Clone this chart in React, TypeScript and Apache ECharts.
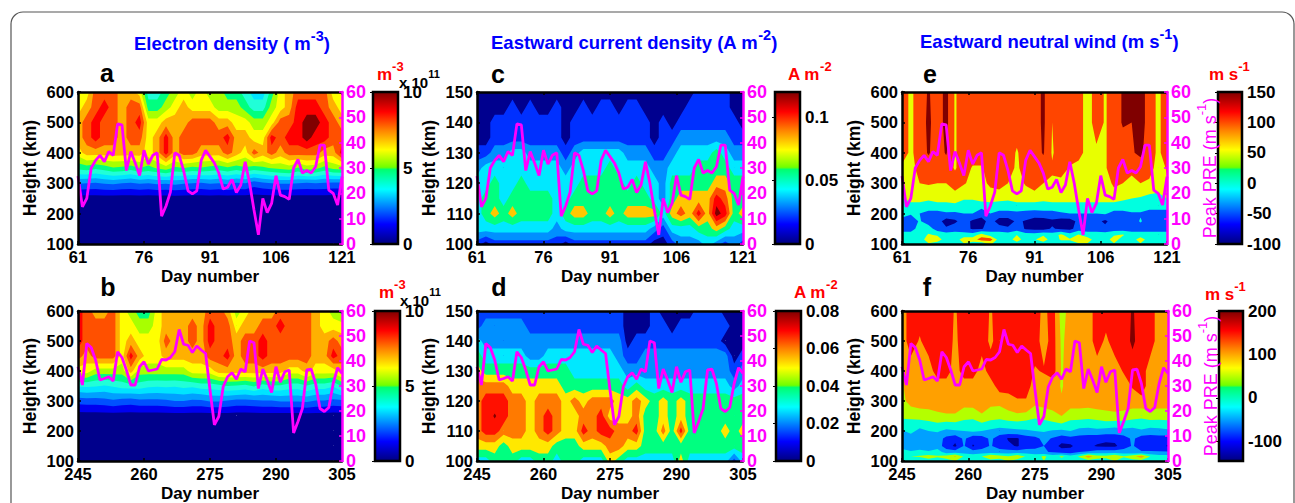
import React, { useEffect, useRef } from "react";
import * as echarts from "echarts";

const FONT = '"Liberation Sans", Arial, sans-serif';
const MAGENTA = "#ff00ff";

const daysSpring = [61,63,65,67,69,71,73,75,77,79,81,83,85,87,89,91,93,95,97,99,101,103,105,107,109,111,113,115,117,119,121];
const daysAutumn = [245,247,249,251,253,255,257,259,261,263,265,267,269,271,273,275,277,279,281,283,285,287,289,291,293,295,297,299,301,303,305];
const heightsFine = [600,550,500,450,400,350,300,250,200,150,100];
const heightsE = [150,145,140,135,130,125,120,115,110,105,100];
const heightsWind = [600,500,400,350,300,250,225,200,175,150,130,115,100];

// Peak PRE (m/s), one value per day
const peakPreSpring = [26.8,14.7,18,30,33,35,32.5,36.5,35,47.4,47,29,36.5,32,27,37,31.5,35,36,11,15,20.5,36,35,29,21,19.8,21,33,37,34.5,32,28,21.7,22.4,25.5,20.3,23.3,32.5,24,13.4,3.6,18,12.4,16,27,19.3,18.7,17.6,30,33.4,28,29,28,30.5,39,39,21.3,20,15.4,26.6];
const peakPreAutumn = [37.7,30.4,47,45.4,40.4,32.4,33,33.7,32,43.7,41.4,36.4,30.4,30.4,37.7,39.7,36,36.4,36.8,40.6,40.4,41.4,43.7,52.6,46.7,46.3,43.4,46,44.4,43,28.4,14.5,17.8,29.7,33.7,35.3,32.7,36.8,35.7,48,47.3,29,36.8,32.4,27.4,37.7,31.5,35.7,36.4,11.2,15.8,21,36.4,36.7,31,21,19.8,21.4,31,37.3,35];

// Field values (rows from the top of the panel down)
const zero = [0,0,0,0,0,0,0,0,0,0,0,0,0,0,0,0,0,0,0,0,0,0,0,0,0,0,0,0,0,0,0];
const gridA = [
  [8,8,10,10,10,9,9,8,5,5,6,7,8,7,8,7,7,6,6,5,4,4,6,8,9,10,10,10,10,8,8],
  [8,9,10,11,10,9,10,10,6,6,7,8,9,8,8,8,7,7,7,6,5,5,7,8,9,11,11,11,10,9,8],
  [9,10,11,10,10,9,10,11,8,8,9,9,9,10,10,10,9,9,8,8,7,7,8,10,10,11,12,12,11,10,9],
  [9,10,11,10,10,9,10,10,8,9,11,9,10,10,10,10,10,11,9,9,8,8,11,10,11,11,12,11,11,10,10],
  [8,9,9,9,9,9,9,9,8,9,11,9,10,10,9,9,9,10,9,8,10,9,10,9,10,10,10,10,9,9,11],
  [5.8,6,5.7,6,6.4,6.3,6,6.5,6.2,6.6,7,6.3,6.5,6.2,6.4,6.2,6,6.3,6,6.4,6,6.3,6.6,6.8,7,6.4,7,6.8,6.2,6.8,7],
  [2.6,2.5,2.4,2.6,2.7,2.5,2.4,2.6,2.5,2.7,2.6,2.8,2.6,2.5,2.4,2.6,2.5,2.7,2.4,2.5,2,2.3,2.5,2.6,2.6,2.5,2.4,2.5,2.4,2.3,2.3],
  zero, zero, zero, zero,
];
const gridB = [
  [11,10,9,9,10,8,7,6,6,8,9,9,9,9,9,10,10,9,7,8,9,9,9,10,10,10,10,9,8,7,6],
  [11,10,10,10,10,8,8,7,7,8,9,9,9,10,9,11,10,10,8,9,9,10,10,11,10,10,10,9,8,8,8],
  [11,10,10,10,10,8,9,8,8,8,10,9,9,10,9,11,10,10,9,10,10,11,10,10,10,10,10,9,9,10,9],
  [10,9,10,10,10,8,11,9,8,8,9,9,9,9,9,10,10,11,9,10,10,11,10,10,10,10,10,9,9,11,10],
  [8,8,7,7,7,7,9,7,7,7,7,7,7,8,8,8,9,9,9,9,9,9,9,9,8,8,9,8,8,8,9],
  [4.6,4.7,4.6,4.4,4.6,4.9,5,5,4.7,4.6,4.7,4.6,4.8,4.7,5,5,5.2,5.5,5.4,5.2,5.6,5,5.4,5.3,5,5,5.4,5,5,4.6,5.6],
  [1.9,2,2,2.1,2.3,2.1,2,2.2,2.2,2.2,2.3,2.5,2.5,2.3,2.3,2.6,2.6,2.4,2.2,2.2,2.3,2.4,2.4,2.6,2.6,2.6,2.7,2.4,2.4,2.2,2.3],
  zero, zero, zero, zero,
];
const gridC = [
  [0,0,0,0,0,0,0,0,0,0,0,0,0,0,0,0,0,0,0,0,0,0,0,0,0,1,1,1,1,0,0],
  [0,0,0,0,1,0,1,0,0,1,0,0,1,0,1,1,0,1,1,0,0,0,0,0,1,1,1,1,1,0,0],
  [0,0,1,1,1,1,1,1,1,1,0,1,1,1,1,1,1,1,1,1,0,1,0,1,1,1,1,1,1,1,0],
  [0,0,1,1,1,1,1,1,1,1,0,1,1,1,1,1,1,1,1,1,0,1,1,2,2,2,2,2,2,1,1],
  [1,1,2,2,3,3,2,2,2,2,1,2,3,3,3,3,3,2,2,2,1,1,2,3,3,3,3,4,3,2,2],
  [2,3,3,3,3,3,3,3,3,3,2,3,3,3,3,4,3,3,3,3,2,2,3,3,3,4,4,4,4,3,3],
  [3,3,4,3,3,4,3,3,3,3,3,3,4,4,4,4,4,3,4,3,3,2,4,4,4,4,4,5,5,4,4],
  [3,4,4,3,4,4,4,4,4,3,3,4,4,4,4,4,4,4,4,4,3,2,4,5,5,5,5,7,6,4,4],
  [3,4,5,4,5,4,4,4,4,3,4,5,5,4,4,5,4,5,5,5,5,3,5,6,5,7,5,8,7,4,5],
  [3,3,3,3,3,3,3,3,3,2,3,3,3,3,3,3,3,3,3,3,2,1,3,3,3,4,4,5,4,3,3],
  [1,0,1,1,1,1,1,1,1,1,0,1,1,1,1,1,1,1,1,1,0,0,1,2,2,2,3,2,1,2,1],
];
const gridD = [
  [1,1,1,1,1,1,1,1,1,1,1,1,1,1,1,1,1,0,0,0,1,0,0,0,0,1,1,1,0,0,0],
  [1,2,2,2,2,2,1,1,1,1,1,1,1,1,1,1,1,0,0,0,1,1,0,1,1,1,1,1,1,0,0],
  [3,2,2,2,2,2,2,2,2,2,2,2,2,2,2,2,2,0,1,1,1,1,1,1,1,1,1,1,0,0,0],
  [4,3,3,3,3,3,2,2,3,3,3,3,3,3,3,3,2,1,1,2,2,2,2,2,2,2,2,2,2,0,1],
  [5,4,4,4,4,4,4,4,4,4,4,3,3,3,3,3,3,2,2,2,2,2,2,2,2,2,2,2,2,1,2],
  [6,6,6,6,5,5,5,5,5,5,4,4,4,4,4,4,4,3,4,3,3,3,3,3,3,3,3,3,3,2,3],
  [6,7,7,7,6,6,5,6,6,6,5,6,5,6,6,6,5,5,6,5,4,5,4,5,4,4,4,4,4,4,4],
  [6,7,7.6,7,6,6,5,6,7,6,5,5,6,6,7,5,5,5,6,4,4,5,4,5,4,4,4,4,4,4,4],
  [6,7,7,6,6,6,5,6,7,6,5,5,7,6,7,7,6,6,7,4,4,6,4,7,4,4,4,4,5,4,5],
  [5,5,5,4,5,5,5,5,5,4,4,4,5,5,5,6,6,5,5,4,4,4,4,4,4,4,4,4,4,4,4],
  [3,3,4,4,4,3,3,4,4,3,4,4,3,3,3,5,4,3,3,3,3,3,3,5,3,3,3,3,3,1,3],
];
const gridE = [
  [4,3.3,4,4.6,4,4.8,3.4,4,4,4,4,4,4,4,4,4,4.7,3.5,4,4,4,3,4,3.4,4,4.6,4.5,5,4,3.3,4],
  [4,3.3,4,4.7,4,4.8,3.4,4,4,4,4,4,4,4,4,4,4.7,3.5,4,4,4,3,4,3.4,4,4.6,4.5,5,4,3.3,4],
  [4,3.3,4,4.6,4,4.6,3.4,4,4,4,4,4,4,3.4,4,4,4.6,3.4,4,4,4,3,3.3,3.4,4,4,4.4,4.7,4,3.3,4],
  [3.3,3,4,4,4,4,3.4,4,3.4,3.4,4,4,4,3.3,4,4,4,3.6,4,3.4,3,3,3,3.4,4,4,3.6,4,4,3,3.6],
  [3.4,3.4,3.5,3.6,3.5,3.5,4,3.6,3.2,3.2,3.7,4,3.5,3.1,3.6,4,3.5,3.4,3.2,3,3,3,3,3,3.7,3.5,3.4,3.5,3.3,3,3.4],
  [2.4,3,3,2.7,3,3,3,2.6,2.6,3,3,2.8,2.7,3,3,3,2.8,3,3,3,3,3,3,3,3,2.7,2.5,2.4,2.2,2.2,2.5],
  [2,2,2,2,2,2,2.2,2,2,1.8,2,2,2,2,2,2,2,2,2,2,2,2,2,2,2,2,2,2,2,2,2],
  [2,1.6,1.5,1.2,1.2,1.4,1.3,1.5,1.5,1,1.5,1.2,1.2,1.3,1.2,1.1,1.2,1.2,1.4,1.5,1.5,1.5,1.5,1.6,1.2,1.2,1.4,1.4,1,1,1],
  [1,1,1.6,1,1,0,0.3,1,0.3,0,1,0,0,0.7,0.4,0,0,0.3,0,0,0.8,1,0.8,0.3,1,1,1,1.6,1,0.6,1],
  [1,1,2,2,1,0.7,1,0.8,0.4,0.4,1,1,0.7,1,0.4,0.2,0.2,0.6,0.3,0.2,1,1,1,0.8,1,1,1,1,1,1,1],
  [2,2,2,2.6,2.4,2,2,2,2,3,2,2,2,2.5,2,2,2.4,2,2.7,2,2.6,2,2,2,2.4,2.6,2,2,2,2,2],
  [2,2,2,3,3,2,2,3,3,4,4,2,2,3,2,2.4,3,2,2.6,2.6,3,3,2,2,3,2,2,3,2,2,2],
  [1.6,1.6,2,2.4,2,1.6,2,2.4,2,1.6,2.6,2,2,2,1.5,2,2,1.6,2,2,2.4,2.4,1.7,2,2.4,2,1.7,2.4,2,1.7,1.7],
];
const gridF = [
  [5,6,6,6,6,6,5.4,6,6,6,5.4,6,6,6,6,6,5.2,6,4,5,5,5,6,6,6,6,6.6,6,6,5,5],
  [5,6,5.4,6,6,6,5.3,6,6,6,5.3,6,6,6,6,6,5,6,4.3,5,5,5,6,5.3,6,6,6.7,6,6,5,5],
  [5,5,5,5,6,6,5,6,6,5,6,6,6,6,6,5.4,5.6,6,4.4,5,5,5,5,5,5,5.6,6,6,5,5,5],
  [4.4,5,5,5,5,5,5,5,5,5,5,6,6,6,6,5,5,5,4.4,5,5,5,5,5,5,5,5.6,6,5,5,5],
  [4.2,4.9,5,5,5,5,5,4.8,5,5,4.8,4.8,5,5.4,5.4,4.8,5,5,4.6,5,5,5,5,5,5,5,5,5.2,5,5,5],
  [3.8,3.8,4,4.1,4.3,4.4,4.4,4.1,3.9,4.4,4,3.9,4.2,4.3,4.2,3.8,3.9,4.2,4.5,4,4,3.9,4.1,4.2,4.3,4.2,4,3.8,4.1,4,4],
  [3,3.1,3,3.2,3.4,3.2,3.3,3,3,3.4,3.1,3,3.1,3.2,3,2.9,3.1,3.3,3.5,3.1,3,2.9,3,3.2,3.1,3.1,2.9,2.9,3,3,3.1],
  [2.4,2.8,2.2,2.5,2.6,2.3,2.4,2.5,2.7,2.5,2.3,2.1,2.2,2.3,2.4,2.5,2.6,2.4,2.3,2.5,2.2,2.2,2.3,2.1,2,2.2,2.2,2.4,2.1,2.2,2.3],
  [2,2,1.6,2,2,1.2,0.8,1.7,0.8,1,1.7,1,0.4,0.4,1,1.2,1.8,1.4,1,1.2,1,0.9,0.8,0.7,0.8,1,1.7,1,1,1,1],
  [2,2,1.7,2,2,1,0.3,1.6,0.4,1,1.6,1,0.7,0.4,1,1.1,1.5,1,0.2,0.3,1,0.7,0.4,0.3,0.3,1,1.6,1,1,0.8,0.4],
  [3,2.6,3,2.6,3,2,2,2,2,2,2,2,2,2,2,2,1.6,1.4,1,1,1.5,1.6,2,2,2,2,1.6,1.6,1.6,1.6,1.6],
  [3,3.5,3.6,4,3.6,4,4.6,3.4,3,3.5,4.4,4,3.6,4.2,3.4,3,3.7,3,3.7,3,3.6,5,4,3.8,4.5,3.6,4.2,5,3.5,3,3],
  [3,3,2.7,3,3,3,3.5,3,2.6,2.4,3,3,3.5,3,3,2.6,3.5,3,3,3,3,3,3,3,3.5,3,3,3,3,3,2.8],
];

const bandsDensity = ["#00008c","#0000f0","#0050ff","#00a0ff","#00e4ff","#20ffd8","#00ff80","#a8ff00","#ffff00","#ffb000","#ff5000","#ff0000","#800000"];
const bandsCurrentC = ["#00008f","#0030ff","#0090ff","#00e8ff","#00ff80","#ffc800","#ff5000","#ff0000","#800000"];
const bandsCurrentD = ["#00008f","#0040ff","#0090ff","#00e8ff","#00ff80","#ffe800","#ff7a00","#ff1000","#800000"];
const bandsWindE = ["#000090","#0050ff","#00ffe0","#e8ff00","#ff4500","#800000"];
const bandsWindF = ["#000090","#0020ff","#00a0ff","#00ffd8","#b4ff00","#ffa000","#ff1000","#800000"];

const jetStops = [
  { offset: 0, color: "#00007f" },
  { offset: 0.13, color: "#0000ff" },
  { offset: 0.36, color: "#00ffff" },
  { offset: 0.49, color: "#00ff70" },
  { offset: 0.505, color: "#70ff00" },
  { offset: 0.62, color: "#ffff00" },
  { offset: 0.75, color: "#ff8000" },
  { offset: 0.87, color: "#ff0000" },
  { offset: 1, color: "#7f0000" },
];

const ticksSpring = [61,76,91,106,121];
const ticksAutumn = [245,260,275,290,305];

const panels = [
  { letter:"a", grid:gridA, bands:bandsDensity, days:daysSpring, heights:heightsFine, ticks:ticksSpring, pre:peakPreSpring, yMin:100, yMax:600, yInt:100, left:78, top:92, width:264, height:152, barLeft:373, barW:25, barMin:0, barMax:10, barTicks:[0,5,10], peakName:false },
  { letter:"b", grid:gridB, bands:bandsDensity, days:daysAutumn, heights:heightsFine, ticks:ticksAutumn, pre:peakPreAutumn, yMin:100, yMax:600, yInt:100, left:78, top:311, width:264, height:150, barLeft:375, barW:25, barMin:0, barMax:10, barTicks:[0,5,10], peakName:false },
  { letter:"c", grid:gridC, bands:bandsCurrentC, days:daysSpring, heights:heightsE, ticks:ticksSpring, pre:peakPreSpring, yMin:100, yMax:150, yInt:10, left:477, top:92, width:266, height:152, barLeft:775, barW:25, barMin:0, barMax:0.12, barTicks:[0,0.05,0.1], peakName:false },
  { letter:"d", grid:gridD, bands:bandsCurrentD, days:daysAutumn, heights:heightsE, ticks:ticksAutumn, pre:peakPreAutumn, yMin:100, yMax:150, yInt:10, left:477, top:311, width:266, height:150, barLeft:776, barW:25, barMin:0, barMax:0.08, barTicks:[0,0.02,0.04,0.06,0.08], peakName:false },
  { letter:"e", grid:gridE, bands:bandsWindE, days:daysSpring, heights:heightsWind, ticks:ticksSpring, pre:peakPreSpring, yMin:100, yMax:600, yInt:100, left:902, top:92, width:265, height:152, barLeft:1218, barW:24, barMin:-100, barMax:150, barTicks:[-100,-50,0,50,100,150], peakName:true },
  { letter:"f", grid:gridF, bands:bandsWindF, days:daysAutumn, heights:heightsWind, ticks:ticksAutumn, pre:peakPreAutumn, yMin:100, yMax:600, yInt:100, left:902, top:311, width:266, height:150, barLeft:1219, barW:24, barMin:-145, barMax:200, barTicks:[-100,0,100,200], peakName:true },
];

const headings = [
  { base:"Electron density ( m", sup:"-3", tail:")", x:134, y:41 },
  { base:"Eastward current density (A m", sup:"-2", tail:")", x:491, y:40 },
  { base:"Eastward neutral wind (m s", sup:"-1", tail:")", x:920, y:39 },
];
const letterPlaces = [[107,73],[108,287],[498,74],[499,287],[930,74],[927,287]];
const unitLabels = [
  { base:"m", sup:"-3", x:377, y:71 }, { base:"m", sup:"-3", x:379, y:289 },
  { base:"A m", sup:"-2", x:788, y:71 }, { base:"A m", sup:"-2", x:794, y:289 },
  { base:"m s", sup:"-1", x:1209, y:71 }, { base:"m s", sup:"-1", x:1205, y:291 },
];
const factorLabels = [{ x:399, y:79 },{ x:400, y:297 }];

echarts.graphic.registerShape("contourBand", echarts.graphic.extendShape({
  shape: { polys: [] as number[][][] },
  buildPath(ctx: any, shape: any) {
    for (const poly of shape.polys) {
      poly.forEach((p: number[], i: number) => (i ? ctx.lineTo(p[0], p[1]) : ctx.moveTo(p[0], p[1])));
      ctx.closePath();
    }
  },
}));

function clipAbove(poly: number[][], t: number) {
  const out: number[][] = [];
  for (let i = 0; i < poly.length; i++) {
    const a = poly[i];
    const b = poly[(i + 1) % poly.length];
    if (a[2] >= t) out.push(a);
    if (a[2] >= t !== b[2] >= t) {
      const f = (t - a[2]) / (b[2] - a[2]);
      out.push([a[0] + f * (b[0] - a[0]), a[1] + f * (b[1] - a[1]), t]);
    }
  }
  return out;
}

function textLabel(base: string, sup: string, tail: string, x: number, y: number, fill: string, size: number) {
  return {
    type: "text", x, y, z: 50, silent: true,
    style: {
      text: `{b|${base}}{s|${sup}}{b|${tail}}`,
      align: "left", verticalAlign: "middle", fill,
      rich: {
        b: { fontFamily: FONT, fontWeight: "bold", fontSize: size, fill, lineHeight: size + 6, verticalAlign: "bottom" },
        s: { fontFamily: FONT, fontWeight: "bold", fontSize: size - 4, fill, lineHeight: size + 6, verticalAlign: "top" },
      },
    },
  };
}

function buildOption() {
  const grid: any[] = [], xAxis: any[] = [], yAxis: any[] = [], series: any[] = [];
  const labelStyle = { color: "#000", fontFamily: FONT, fontWeight: "bold", fontSize: 16.5 };
  const nameStyle = { color: "#000", fontFamily: FONT, fontWeight: "bold", fontSize: 17 };
  panels.forEach((p) => {
    const g = grid.length;
    grid.push({ left: p.left, top: p.top, width: p.width, height: p.height, outerBoundsMode: "none" });
    const bx = xAxis.length, by = yAxis.length;
    const lineBlack = { show: true, onZero: false, lineStyle: { color: "#000", width: 2.5 } };
    const tickIn = { show: true, inside: true, length: 3, lineStyle: { color: "#000", width: 1.5 } };
    xAxis.push({
      gridIndex: g, type: "value", min: p.days[0], max: p.days[p.days.length - 1], position: "bottom", z: 5,
      name: "Day number", nameLocation: "middle", nameGap: 24,
      nameTextStyle: nameStyle,
      axisLine: lineBlack, splitLine: { show: false },
      axisTick: { ...tickIn, customValues: p.ticks },
      axisLabel: { ...labelStyle, margin: 4, customValues: p.ticks, hideOverlap: false },
    });
    xAxis.push({
      gridIndex: g, type: "value", min: p.days[0], max: p.days[p.days.length - 1], position: "top", z: 5,
      axisLine: lineBlack, splitLine: { show: false },
      axisTick: { ...tickIn, customValues: p.ticks }, axisLabel: { show: false },
    });
    yAxis.push({
      gridIndex: g, type: "value", min: p.yMin, max: p.yMax, interval: p.yInt, position: "left", z: 5,
      name: "Height (km)", nameLocation: "middle", nameGap: 39, nameRotate: 90,
      nameTextStyle: { ...nameStyle, fontSize: 17.5 },
      axisLine: lineBlack, splitLine: { show: false }, axisTick: tickIn,
      axisLabel: { ...labelStyle, margin: 4 },
    });
    yAxis.push({
      gridIndex: g, type: "value", min: 0, max: 60, interval: 10, position: "right", z: 6,
      name: p.peakName ? "{b|Peak PRE (m s}{s|-1}{b|)}" : "",
      nameLocation: "middle", nameGap: 27, nameRotate: 90,
      nameTextStyle: { rich: {
        b: { color: MAGENTA, fontFamily: FONT, fontSize: 18, lineHeight: 24, verticalAlign: "bottom" },
        s: { color: MAGENTA, fontFamily: FONT, fontSize: 13, lineHeight: 24, verticalAlign: "top" },
      } },
      axisLine: { show: true, lineStyle: { color: MAGENTA, width: 2.5 } },
      splitLine: { show: false },
      axisTick: { show: true, inside: true, length: 3, lineStyle: { color: MAGENTA, width: 1.5 } },
      axisLabel: { color: MAGENTA, fontFamily: FONT, fontWeight: "bold", fontSize: 18, margin: 4 },
    });

    const rows = [...p.grid].reverse();
    const hs = [...p.heights].reverse();
    const levels = p.bands.map((_, k) => k);
    series.push({
      type: "custom", xAxisIndex: bx, yAxisIndex: by, z: 2, silent: true, clip: true,
      data: levels.map((k) => [k]),
      renderItem: (params: any, api: any) => {
        const k = params.dataIndex;
        const t = k - 0.5;
        const polys: number[][][] = [];
        for (let r = 0; r < hs.length - 1; r++) {
          for (let c = 0; c < p.days.length - 1; c++) {
            const quad = [
              [p.days[c], hs[r], k === 0 ? 1e3 : rows[r][c]],
              [p.days[c + 1], hs[r], k === 0 ? 1e3 : rows[r][c + 1]],
              [p.days[c + 1], hs[r + 1], k === 0 ? 1e3 : rows[r + 1][c + 1]],
              [p.days[c], hs[r + 1], k === 0 ? 1e3 : rows[r + 1][c]],
            ];
            const clipped = clipAbove(quad, t);
            if (clipped.length > 2) polys.push(clipped.map((q) => api.coord([q[0], q[1]])));
          }
        }
        return { type: "contourBand", shape: { polys }, style: { fill: p.bands[k] } };
      },
    });
    series.push({
      type: "line", xAxisIndex: bx, yAxisIndex: by + 1, z: 3, silent: true, showSymbol: false,
      lineStyle: { color: MAGENTA, width: 2.8 }, clip: false,
      data: p.pre.map((v, i) => [p.days[0] + i, v]),
    });

    // colour bar
    const cg = grid.length;
    grid.push({ left: p.barLeft, top: p.top, width: p.barW, height: p.height, outerBoundsMode: "none" });
    const cx = xAxis.length, cy = yAxis.length;
    xAxis.push({ gridIndex: cg, type: "value", min: 0, max: 1, show: false });
    yAxis.push({
      gridIndex: cg, type: "value", min: p.barMin, max: p.barMax, position: "right", z: 5,
      axisLine: { show: false }, splitLine: { show: false },
      axisTick: { show: true, inside: true, length: 3, lineStyle: { color: "#000", width: 1 }, customValues: p.barTicks },
      axisLabel: { ...labelStyle, fontSize: 17, margin: 5, customValues: p.barTicks },
    });
    series.push({
      type: "custom", xAxisIndex: cx, yAxisIndex: cy, z: 2, silent: true,
      data: [[0, p.barMin, 1, p.barMax]],
      renderItem: (_: any, api: any) => {
        const a = api.coord([api.value(0), api.value(1)]);
        const b = api.coord([api.value(2), api.value(3)]);
        return {
          type: "rect",
          shape: { x: a[0], y: b[1], width: b[0] - a[0], height: a[1] - b[1] },
          style: { fill: new echarts.graphic.LinearGradient(0, 1, 0, 0, jetStops), stroke: "#000", lineWidth: 2.5 },
        };
      },
    });
  });

  const graphic: any[] = [
    { type: "rect", z: -10, silent: true, shape: { x: 11, y: 12, width: 1283, height: 520, r: 12 }, style: { fill: "#fff", stroke: "#555", lineWidth: 1.2 } },
  ];
  headings.forEach((h) => graphic.push(textLabel(h.base, h.sup, h.tail, h.x, h.y, "#0000ff", 18.5)));
  unitLabels.forEach((u) => graphic.push(textLabel(u.base, u.sup, "", u.x, u.y, "#ff0000", 17)));
  factorLabels.forEach((f) => graphic.push(textLabel("x 10", "11", "", f.x, f.y, "#000", 15)));
  panels.forEach((p, i) => graphic.push({
    type: "text", x: letterPlaces[i][0], y: letterPlaces[i][1], z: 50, silent: true,
    style: { text: p.letter, align: "center", verticalAlign: "middle", fill: "#000", fontFamily: FONT, fontWeight: "bold", fontSize: 25 },
  }));

  return { animation: false, backgroundColor: "#fff", grid, xAxis, yAxis, series, graphic };
}

export default function App() {
  const ref = useRef<HTMLDivElement>(null);
  useEffect(() => {
    document.body.style.margin = "0";
    const chart = echarts.init(ref.current!, undefined, { renderer: "svg" });
    chart.setOption(buildOption() as any);
    return () => chart.dispose();
  }, []);
  return <div ref={ref} style={{ width: 1295, height: 503 }} />;
}
